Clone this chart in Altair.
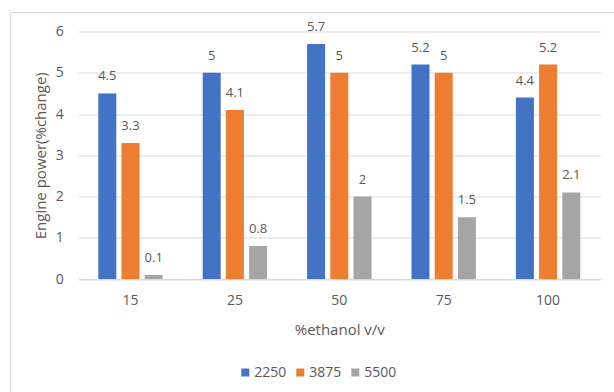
import altair as alt
import pandas as pd

categories = ["15", "25", "50", "75", "100"]
series = ["2250", "3875", "5500"]
v2250 = [4.5, 5, 5.7, 5.2, 4.4]
v3875 = [3.3, 4.1, 5, 5, 5.2]
v5500 = [0.1, 0.8, 2, 1.5, 2.1]
colors = ["#4472C4", "#ED7D31", "#A5A5A5"]
y_ticks = [0, 1, 2, 3, 4, 5, 6]

rows = []
for s, vals in zip(series, [v2250, v3875, v5500]):
    for c, v in zip(categories, vals):
        rows.append({"cat": c, "series": s, "value": v, "label": f"{v:g}"})
df = pd.DataFrame(rows)

FONT = "Open Sans"
TXT = "#595959"
GRID = "#d9d9d9"

x = alt.X(
    "cat:N", sort=categories, title="%ethanol v/v",
    scale=alt.Scale(paddingInner=0.383, paddingOuter=0.1915),
    axis=alt.Axis(labelAngle=0, ticks=False, domainColor=GRID, labelPadding=14,
                  titlePadding=15, labelFontSize=14, titleFontSize=15,
                  labelColor=TXT, titleColor=TXT, labelFont=FONT, titleFont=FONT,
                  titleFontWeight="normal"),
)
xo = alt.XOffset("series:N", sort=series, scale=alt.Scale(paddingInner=0.224, paddingOuter=0))
y = alt.Y(
    "value:Q", title="Engine power(%change)",
    scale=alt.Scale(domain=[0, 6], nice=False),
    axis=alt.Axis(values=y_ticks, domain=False, ticks=False, gridColor=GRID,
                  labelPadding=15, titlePadding=7, labelFontSize=14, titleFontSize=15,
                  labelColor=TXT, titleColor=TXT, labelFont=FONT, titleFont=FONT,
                  titleFontWeight="normal"),
)

base = alt.Chart(df)

bars = base.mark_bar().encode(
    x=x, xOffset=xo, y=y,
    color=alt.Color(
        "series:N", sort=series, title=None,
        scale=alt.Scale(domain=series, range=colors),
        legend=alt.Legend(orient="none", legendX=160, legendY=334, direction="horizontal",
                          columns=3, symbolType="square", symbolSize=64, symbolStrokeWidth=0,
                          labelFontSize=14, labelFont=FONT, labelColor=TXT, labelOffset=2,
                          columnPadding=6),
    ),
)

text = base.mark_text(baseline="alphabetic", dy=-13, fontSize=13, color=TXT, font=FONT).encode(
    x=x, xOffset=xo, y=y, text="label:N"
)

border = alt.Chart(pd.DataFrame({"z": [0]})).mark_rect(
    fillOpacity=0, stroke=GRID, strokeWidth=1
).encode(x=alt.value(-67.8), x2=alt.value(700), y=alt.value(-19), y2=alt.value(500))

chart = alt.layer(border, bars, text).properties(
    width=522, height=247.5,
    autosize=alt.AutoSizeParams(type="none"),
    padding={"left": 78.3, "top": 31.5, "right": 13.7, "bottom": 113},
    background="white",
).configure_view(stroke="transparent")

chart.save("out.html", embed_options={"renderer": "svg", "actions": False})
